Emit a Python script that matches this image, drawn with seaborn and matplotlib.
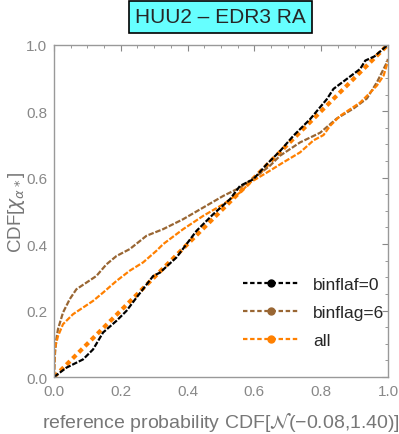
import matplotlib
matplotlib.use("Agg")
import matplotlib.pyplot as plt
import seaborn as sns
import pandas as pd
from matplotlib.lines import Line2D
from matplotlib.ticker import MultipleLocator

# binflaf=0 curve
flag0_x = [0, .037, .087, .117, .147, .187, .217, .247, .297, .317, .367, .427, .477, .527,
           .557, .597, .637, .677, .717, .767, .817, .837, .877, .917, .932, .96, 1.0]
flag0_y = [0, .028, .053, .083, .134, .169, .199, .239, .304, .314, .36, .44, .49, .535,
           .575, .595, .64, .68, .726, .776, .836, .867, .897, .927, .952, .965, 1.0]

# binflag=6 curve
flag6_x = [0, .003, .007, .012, .027, .047, .067, .097, .127, .157, .187, .227, .277, .327,
           .387, .447, .507, .557, .607, .647, .677, .737, .797, .847, .897, .937, .967,
           .982, .997, 1.0]
flag6_y = [0, .07, .114, .144, .194, .234, .264, .284, .304, .339, .364, .385, .425, .445,
           .475, .51, .545, .57, .605, .636, .666, .706, .735, .778, .808, .838, .887,
           .917, .947, .957]

# all
all_x = [0, .002, .012, .027, .057, .087, .117, .147, .187, .227, .267, .307, .327, .387,
         .447, .507, .557, .587, .637, .687, .737, .777, .807, .827, .857, .887, .917, .947,
         .967, .987, 1.0]
all_y = [0, .083, .123, .159, .189, .209, .229, .254, .289, .32, .345, .38, .4, .445,
         .485, .52, .555, .585, .615, .646, .676, .712, .728, .756, .786, .806, .826, .856,
         .877, .907, .95]

# reference line
ref_x = [0, 1]
ref_y = [0, 1]

labels = ["binflaf=0", "binflag=6", "all"]
colors = ["black", "#996633", "#FF8000"]

sns.set_style("white")
plt.rcParams["font.family"] = ["Liberation Sans", "DejaVu Sans"]
plt.rcParams["mathtext.fontset"] = "dejavusans"
gray = "#888888"

fig = plt.figure(figsize=(3.99, 4.35), dpi=100)
ax = fig.add_axes([0.1353, 0.131, 0.837, 0.764])

sns.lineplot(x=ref_x, y=ref_y, ax=ax, color="#FF8000", lw=3,
             linestyle=(0, (1.2, 0.9)), sort=False)
series = [(flag6_x, flag6_y), (all_x, all_y), (flag0_x, flag0_y)]
cols = [colors[1], colors[2], colors[0]]
for (xs, ys), c in zip(series, cols):
    df = pd.DataFrame({"x": xs, "y": ys})
    sns.lineplot(data=df, x="x", y="y", ax=ax, color=c, lw=1.6,
                 linestyle=(0, (2.5, 0.8)), sort=False)

ax.set_xlim(0, 1)
ax.set_ylim(0, 1)
ax.xaxis.set_major_locator(MultipleLocator(0.2))
ax.yaxis.set_major_locator(MultipleLocator(0.2))
ax.xaxis.set_minor_locator(MultipleLocator(0.05))
ax.yaxis.set_minor_locator(MultipleLocator(0.05))
ax.xaxis.set_major_formatter(plt.FormatStrFormatter("%.1f"))
ax.yaxis.set_major_formatter(plt.FormatStrFormatter("%.1f"))
ax.tick_params(which="both", direction="in", top=True, right=True,
               colors=gray, labelsize=11, labelcolor=gray)
ax.tick_params(which="major", length=4, width=0.8, pad=5)
ax.tick_params(which="minor", length=2.5, width=0.6)
for s in ax.spines.values():
    s.set_color("#999999")
    s.set_linewidth(1)

ax.set_xlabel(r"reference probability CDF[$\mathcal{N}$(−0.08,1.40)]",
              fontsize=14, color="#777777", labelpad=9)
ax.set_ylabel(r"CDF[$\chi_{\alpha*}$]", fontsize=13.5, color="#777777")
ax.yaxis.set_label_coords(-0.082, 0.5)

handles = [Line2D([0], [0], color=c, lw=1.6, linestyle=(0, (2, 1.2)),
                  marker="o", markersize=5) for c in colors]
ax.legend(handles, labels, loc="lower right", bbox_to_anchor=(1.035, 0.04),
          frameon=False, fontsize=12.5, handlelength=3.2, labelspacing=0.75,
          handletextpad=0.8)

fig.text(0.553, 0.959, "HUU2 – EDR3 RA", ha="center", va="center", fontsize=15,
         bbox=dict(boxstyle="square,pad=0.3", fc="#66FFFF", ec="black", lw=1.2))

fig.savefig("out.png", dpi=100)
